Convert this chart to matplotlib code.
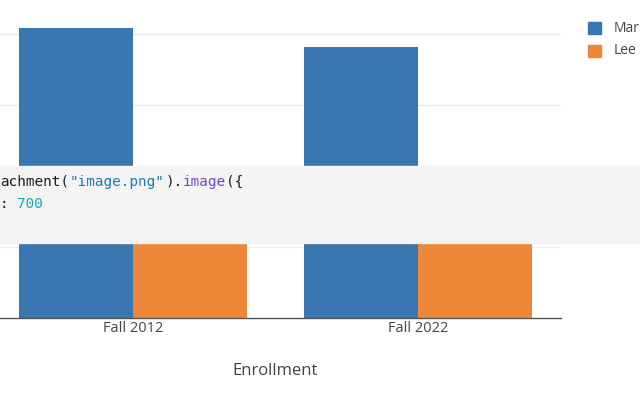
import numpy as np
import matplotlib
matplotlib.use("Agg")
from matplotlib import pyplot as plt
from matplotlib.patches import Rectangle

# data (y tick labels are cut off in the reference, so the scale is a guess)
categories = ["Fall 2012", "Fall 2022"]
series_names = ["Mar", "Lee"]
mar_values = [40800, 38200]
lee_values = [15500, 16800]

blue = "#3a76b0"
orange = "#ee8637"
textGray = "#444444"

plt.rcParams['font.family'] = ['Open Sans', 'DejaVu Sans']

fig = plt.figure(figsize=(6.4, 4.0), dpi=100)
# plot area spills a little past the left edge, like the screenshot
ax = fig.add_axes([-9.5/640, 82/400, 570/640, 304.5/400])

x = np.arange(len(categories))
width = 0.4
ax.bar(x - width/2, mar_values, width, color=blue, label=series_names[0], zorder=2)
ax.bar(x + width/2, lee_values, width, color=orange, label=series_names[1], zorder=2)

ax.set_xlim(-0.5, 1.5)
ax.set_ylim(0, 42900)
ax.set_yticks([10000, 20000, 30000, 40000])
ax.set_yticklabels([])
ax.tick_params(axis='y', length=0)
ax.grid(axis='y', color="#eeeeee", linewidth=1, zorder=0)
ax.set_xticks(x)
ax.set_xticklabels(categories, fontsize=10.5, color=textGray)
ax.tick_params(axis='x', length=0, pad=2.5)
ax.set_xlabel("Enrollment", fontsize=12, color=textGray, labelpad=19)
for s in ["top", "right", "left"]:
    ax.spines[s].set_visible(False)
ax.spines["bottom"].set_color("#555555")
ax.spines["bottom"].set_linewidth(1)

# legend, cut by the right edge in the reference
fig.patches.append(Rectangle((588/640, (400-34)/400), 13/640, 12/400,
                             transform=fig.transFigure, color=blue))
fig.patches.append(Rectangle((588/640, (400-57)/400), 13/640, 12/400,
                             transform=fig.transFigure, color=orange))
fig.text(614/640, (400-29)/400, series_names[0], fontsize=10, color=textGray, va='center')
fig.text(614/640, (400-51)/400, series_names[1], fontsize=10, color=textGray, va='center')

# code cell band lying over the chart
fig.patches.append(Rectangle((0, (400-243)/400), 1, 77/400,
                             transform=fig.transFigure, color="#f4f4f4", zorder=5))
codeSize = 10.4
cw = 0.602*codeSize*100/72  # mono advance in px
dark = "#1b1e23"
line1 = [("achment(", dark), ('"image.png"', "#1b7db3"), (").", dark),
         ("image", "#7446c4"), ("({", dark)]
line2 = [(":", dark), (" ", dark), ("700", "#22a3b8")]
for line, ypix in [(line1, 182), (line2, 204)]:
    n = 0
    for seg, col in line:
        if seg.strip():
            fig.text(n*cw/640, (400-ypix)/400, seg, color=col, fontsize=codeSize,
                     family="DejaVu Sans Mono", va='center', zorder=6)
        n += len(seg)

plt.savefig("out.png", dpi=100)
